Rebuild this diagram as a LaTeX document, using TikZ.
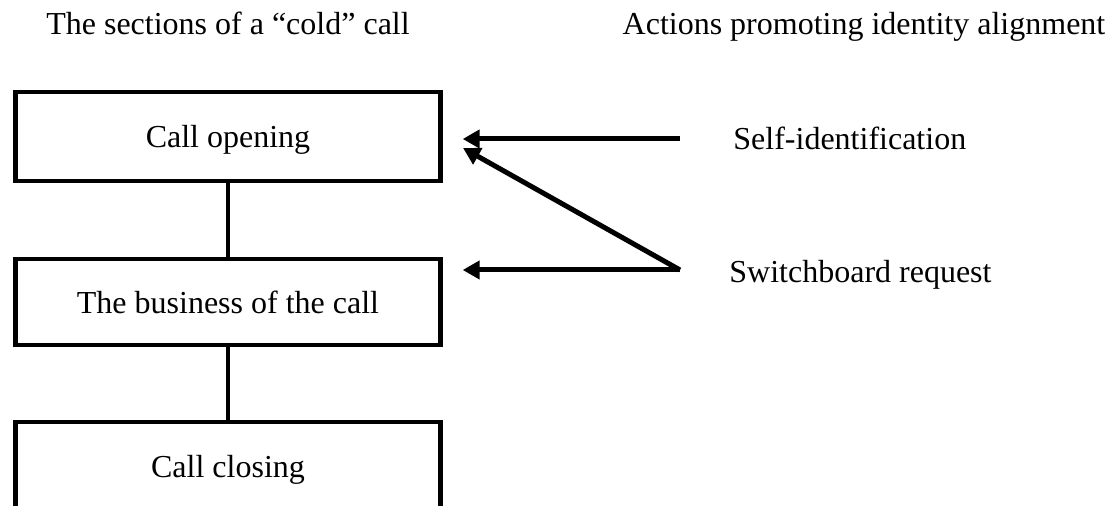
\documentclass[tikz,border=0pt]{standalone}
\usepackage{fontspec}
\setmainfont{Liberation Serif}
\usetikzlibrary{arrows.meta}

\begin{document}
\begin{tikzpicture}[x=0.5pt,y=-0.5pt,
  txt/.style={inner sep=0pt,font=\fontsize{16}{19}\selectfont},
  section/.style={txt,draw,line width=2.2pt,minimum width=212.5pt,text depth=0pt},
  link/.style={line width=2.3pt},
  arr/.style={line width=2.5pt,-{Triangle[length=8.5pt,width=9pt]}}]
\useasboundingbox (0,0) rectangle (1110,506);
\clip (0,0) rectangle (1110,506);

\node[txt,anchor=base] (lhead) at (228,35) {The sections of a ``cold'' call};
\node[txt,anchor=base] (rhead) at (864,35) {Actions promoting identity alignment};

\node[section,minimum height=44.5pt] (open) at (228,136.5) {Call opening};
\node[section,minimum height=43pt] (bus) at (228,302) {The business of the call};
\node[section,minimum height=44pt] (close) at (228,466) {Call closing};

\draw[link] (open) -- (bus);
\draw[link] (bus) -- (close);

\node[txt,anchor=base west] (selfid) at (733,150) {Self-identification};
\node[txt,anchor=base west] (switch) at (729,283) {Switchboard request};

\coordinate (sistart) at (680,139);
\coordinate (sbstart) at (680,270);
\coordinate (diagtip) at (463,148);

\draw[arr,shorten >=10pt] (sistart) -- (sistart -| open.east);
\draw[arr] (sbstart) -- (diagtip);
\draw[arr,shorten >=10pt] (sbstart) -- (sbstart -| bus.east);
\end{tikzpicture}
\end{document}
